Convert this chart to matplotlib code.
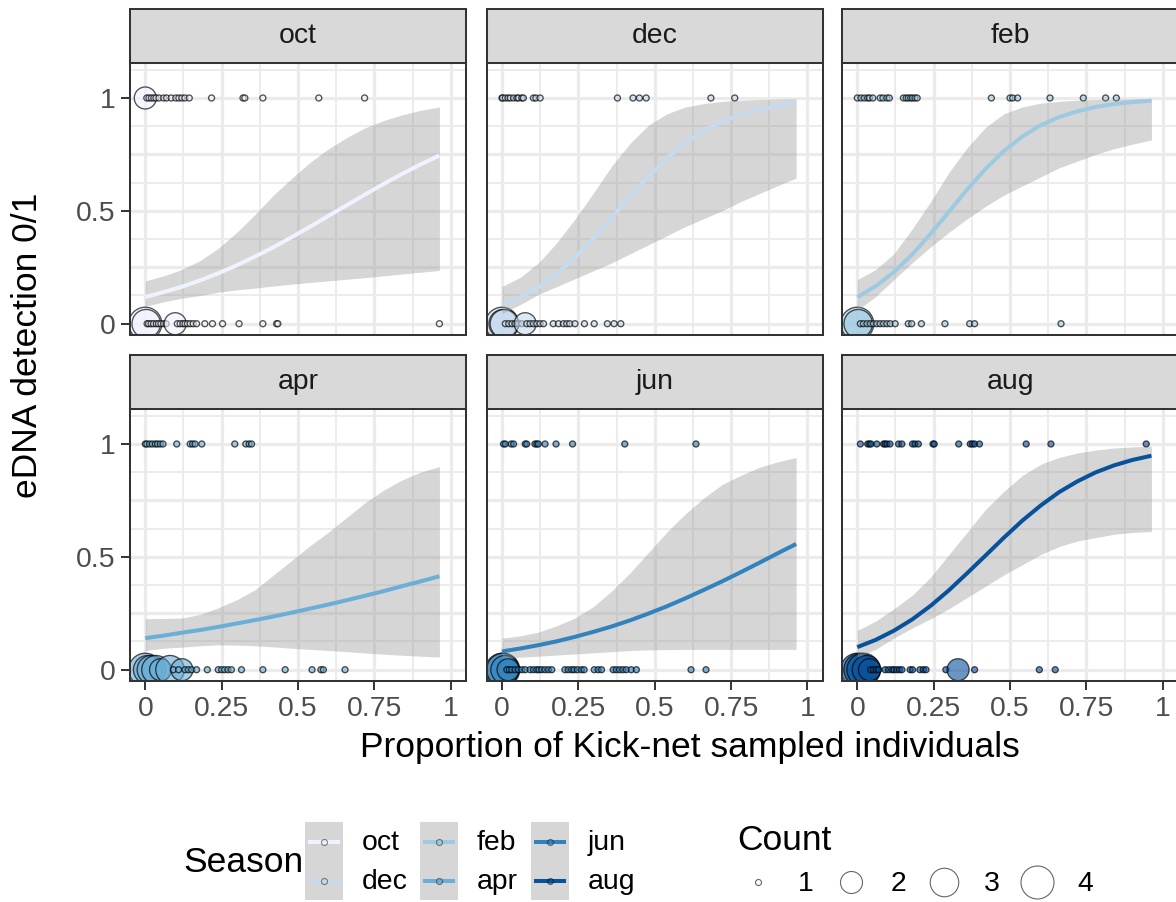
import matplotlib
matplotlib.use("Agg")
import matplotlib.pyplot as plt
from matplotlib.lines import Line2D
from matplotlib.patches import Rectangle
from matplotlib.colors import to_rgba

plt.rcParams['font.family'] = ['Liberation Sans', 'DejaVu Sans']

W, H = 1176, 902
DPI = 100

seasons = ["oct", "dec", "feb", "apr", "jun", "aug"]
season_colors = ["#EFF3FF", "#C6DBEF", "#9ECAE1", "#6BAED6", "#3182BD", "#08519C"]

# fitted logistic curves and confidence bands, sampled along x
fit_x = [0, 0.06, 0.12, 0.18, 0.24, 0.30, 0.36, 0.42, 0.48, 0.54, 0.60,
         0.66, 0.72, 0.78, 0.84, 0.90, 0.963]

oct_fit = [0.118, 0.140, 0.164, 0.192, 0.224, 0.259, 0.298, 0.339, 0.384, 0.430,
           0.478, 0.525, 0.573, 0.619, 0.663, 0.705, 0.745]
oct_lo = [0.077, 0.097, 0.113, 0.125, 0.140, 0.150, 0.158, 0.167, 0.175, 0.183,
          0.190, 0.197, 0.204, 0.212, 0.220, 0.228, 0.236]
oct_hi = [0.190, 0.212, 0.240, 0.280, 0.335, 0.405, 0.485, 0.570, 0.645, 0.715,
          0.775, 0.825, 0.868, 0.900, 0.925, 0.945, 0.960]

dec_fit = [0.084, 0.118, 0.163, 0.222, 0.294, 0.378, 0.470, 0.564, 0.653, 0.733,
           0.801, 0.854, 0.895, 0.926, 0.948, 0.964, 0.975]
dec_lo = [0.045, 0.085, 0.130, 0.165, 0.200, 0.235, 0.270, 0.310, 0.350, 0.390,
          0.430, 0.465, 0.500, 0.540, 0.575, 0.610, 0.645]
dec_hi = [0.165, 0.205, 0.270, 0.360, 0.465, 0.580, 0.700, 0.800, 0.880, 0.930,
          0.960, 0.975, 0.985, 0.990, 0.993, 0.995, 0.996]

feb_fit = [0.118, 0.166, 0.229, 0.307, 0.398, 0.496, 0.595, 0.686, 0.765, 0.829,
           0.879, 0.915, 0.941, 0.960, 0.973, 0.982, 0.988]
feb_lo = [0.060, 0.120, 0.195, 0.270, 0.340, 0.405, 0.465, 0.520, 0.570, 0.610,
          0.650, 0.690, 0.720, 0.750, 0.775, 0.795, 0.814]
feb_hi = [0.195, 0.240, 0.310, 0.420, 0.540, 0.670, 0.780, 0.870, 0.930, 0.960,
          0.977, 0.985, 0.990, 0.993, 0.995, 0.996, 0.997]

apr_fit = [0.140, 0.151, 0.164, 0.176, 0.190, 0.205, 0.220, 0.236, 0.253, 0.271,
           0.289, 0.308, 0.328, 0.348, 0.370, 0.391, 0.414]
apr_lo = [0.085, 0.095, 0.100, 0.106, 0.110, 0.109, 0.106, 0.101, 0.095, 0.090,
          0.085, 0.080, 0.074, 0.069, 0.064, 0.060, 0.056]
apr_hi = [0.226, 0.227, 0.229, 0.245, 0.275, 0.310, 0.355, 0.420, 0.485, 0.550,
          0.610, 0.675, 0.740, 0.795, 0.840, 0.875, 0.900]

jun_fit = [0.081, 0.094, 0.109, 0.126, 0.146, 0.168, 0.192, 0.219, 0.249, 0.281,
           0.316, 0.353, 0.391, 0.431, 0.472, 0.514, 0.557]
jun_lo = [0.050, 0.055, 0.060, 0.065, 0.070, 0.075, 0.080, 0.085, 0.088, 0.089,
          0.090, 0.090, 0.090, 0.090, 0.090, 0.090, 0.090]
jun_hi = [0.140, 0.150, 0.167, 0.195, 0.230, 0.280, 0.350, 0.430, 0.520, 0.610,
          0.690, 0.760, 0.820, 0.860, 0.895, 0.920, 0.940]

aug_fit = [0.100, 0.132, 0.173, 0.223, 0.283, 0.352, 0.428, 0.506, 0.585, 0.660,
           0.727, 0.786, 0.834, 0.874, 0.905, 0.929, 0.948]
aug_lo = [0.055, 0.090, 0.140, 0.185, 0.225, 0.270, 0.320, 0.370, 0.420, 0.465,
          0.510, 0.545, 0.570, 0.585, 0.600, 0.608, 0.612]
aug_hi = [0.174, 0.215, 0.270, 0.330, 0.410, 0.510, 0.610, 0.710, 0.790, 0.860,
          0.910, 0.940, 0.960, 0.973, 0.982, 0.987, 0.990]

# observations: proportion of kick-net individuals, with count per location
oct_x1 = [0, 0.005, 0.012, 0.02, 0.028, 0.035, 0.045, 0.06, 0.07, 0.085, 0.1,
          0.11, 0.12, 0.13, 0.144, 0.217, 0.32, 0.326, 0.385, 0.568, 0.718]
oct_n1 = [2] + [1] * 20
oct_x0 = [0, 0.003, 0.006, 0.011, 0.019, 0.027, 0.036, 0.043, 0.051, 0.06, 0.068,
          0.098, 0.105, 0.114, 0.123, 0.13, 0.138, 0.147, 0.157, 0.168, 0.195,
          0.22, 0.253, 0.307, 0.385, 0.43, 0.434, 0.963]
oct_n0 = [4, 3, 1, 1, 1, 1, 1, 1, 1, 1, 1, 2] + [1] * 16

dec_x1 = [0, 0.002, 0.011, 0.02, 0.027, 0.038, 0.049, 0.054, 0.065, 0.07, 0.103,
          0.111, 0.125, 0.378, 0.429, 0.45, 0.472, 0.684, 0.762]
dec_n1 = [1] * 19
dec_x0 = [0, 0.004, 0.008, 0.011, 0.022, 0.033, 0.043, 0.054, 0.065, 0.076, 0.081,
          0.092, 0.103, 0.114, 0.125, 0.136, 0.168, 0.185, 0.201, 0.212, 0.222,
          0.239, 0.27, 0.302, 0.345, 0.367, 0.389]
dec_n0 = [4, 3, 3, 1, 1, 1, 1, 1, 1, 2] + [1] * 17

feb_x1 = [0, 0.012, 0.023, 0.034, 0.04, 0.051, 0.075, 0.084, 0.097, 0.105, 0.151,
          0.16, 0.167, 0.175, 0.181, 0.189, 0.196, 0.439, 0.5, 0.509, 0.525,
          0.631, 0.74, 0.813, 0.848]
feb_n1 = [1] * 25
feb_x0 = [0, 0.003, 0.01, 0.02, 0.032, 0.043, 0.053, 0.064, 0.075, 0.086, 0.097,
          0.108, 0.124, 0.167, 0.178, 0.21, 0.287, 0.368, 0.384, 0.667]
feb_n0 = [4, 3] + [1] * 18

apr_x1 = [0, 0.005, 0.014, 0.023, 0.033, 0.04, 0.049, 0.058, 0.103, 0.147, 0.155,
          0.163, 0.185, 0.293, 0.329, 0.34, 0.348]
apr_n1 = [1] * 17
apr_x0 = [0, 0.008, 0.02, 0.035, 0.05, 0.081, 0.12, 0.092, 0.109, 0.13, 0.141,
          0.152, 0.168, 0.203, 0.239, 0.25, 0.26, 0.271, 0.282, 0.315, 0.385,
          0.458, 0.546, 0.575, 0.583, 0.654]
apr_n0 = [4, 3, 3, 3, 2, 3, 2] + [1] * 19

jun_x1 = [0.005, 0.011, 0.03, 0.038, 0.076, 0.081, 0.108, 0.114, 0.119, 0.141,
          0.177, 0.231, 0.402, 0.635]
jun_n1 = [1] * 14
jun_x0 = [0, 0.004, 0.01, 0.02, 0.016, 0.024, 0.032, 0.043, 0.054, 0.065, 0.076,
          0.092, 0.103, 0.114, 0.121, 0.13, 0.141, 0.152, 0.163, 0.206, 0.217,
          0.228, 0.236, 0.247, 0.26, 0.269, 0.302, 0.315, 0.326, 0.364, 0.374,
          0.385, 0.396, 0.407, 0.423, 0.44, 0.619, 0.668]
jun_n0 = [4, 4, 3, 2] + [1] * 34

aug_x1 = [0.01, 0.034, 0.04, 0.045, 0.064, 0.086, 0.091, 0.097, 0.107, 0.135,
          0.146, 0.181, 0.189, 0.2, 0.248, 0.252, 0.332, 0.37, 0.377, 0.384, 0.4,
          0.553, 0.634, 0.946]
aug_n1 = [1] * 24
aug_x0 = [0, 0.01, 0.02, 0.03, 0.04, 0.044, 0.053, 0.062, 0.07, 0.091, 0.102,
          0.113, 0.12, 0.129, 0.138, 0.146, 0.173, 0.181, 0.205, 0.216, 0.225,
          0.29, 0.33, 0.384, 0.596, 0.648]
aug_n0 = [4, 4, 4, 3, 2, 1, 1, 1, 1, 1, 1, 1, 1, 1, 1, 1, 1, 1, 1, 1, 1, 1, 2,
          1, 1, 1]

panels = {
    "oct": (oct_fit, oct_lo, oct_hi, oct_x1, oct_n1, oct_x0, oct_n0),
    "dec": (dec_fit, dec_lo, dec_hi, dec_x1, dec_n1, dec_x0, dec_n0),
    "feb": (feb_fit, feb_lo, feb_hi, feb_x1, feb_n1, feb_x0, feb_n0),
    "apr": (apr_fit, apr_lo, apr_hi, apr_x1, apr_n1, apr_x0, apr_n0),
    "jun": (jun_fit, jun_lo, jun_hi, jun_x1, jun_n1, jun_x0, jun_n0),
    "aug": (aug_fit, aug_lo, aug_hi, aug_x1, aug_n1, aug_x0, aug_n0),
}

x_ticks = [0, 0.25, 0.5, 0.75, 1]
x_tick_labels = ["0", "0.25", "0.5", "0.75", "1"]
y_ticks = [0, 0.5, 1]
y_tick_labels = ["0", "0.5", "1"]
count_levels = [1, 2, 3, 4]

# point diameter (px) for each count
count_diam = {1: 6.0, 2: 22, 3: 28.5, 4: 33}

GRID = "#EBEBEB"
DARK = "#333333"
SMALL = 20.4
BIG = 25.5
FILL_ALPHA = 0.6
EDGE = (0, 0, 0, 0.68)


def px_box(x0, y0, x1, y1):
    return [x0 / W, 1 - y1 / H, (x1 - x0) / W, (y1 - y0) / H]


def size_pts(n):
    d = count_diam[n] * 72 / DPI
    return d * d


fig = plt.figure(figsize=(W / DPI, H / DPI), dpi=DPI)
fig.patch.set_facecolor("white")

col_left = [130, 486.7, 842]
panel_w = 336
row_top = [63, 409]
panel_h = 272
strip_h = 54

for i, season in enumerate(seasons):
    r, c = divmod(i, 3)
    x0 = col_left[c]
    y0 = row_top[r]
    color = season_colors[i]
    fill = to_rgba(color, FILL_ALPHA)
    fit, lo, hi, xs1, ns1, xs0, ns0 = panels[season]

    ax = fig.add_axes(px_box(x0, y0, x0 + panel_w, y0 + panel_h))
    ax.set_xlim(-0.05, 1.05)
    ax.set_ylim(-0.05, 1.155)
    ax.set_facecolor("white")

    for g in [0.125, 0.375, 0.625, 0.875]:
        ax.axvline(g, color=GRID, lw=1.3, zorder=0)
    for g in x_ticks:
        ax.axvline(g, color=GRID, lw=2.3, zorder=0)
    for k in range(10):
        g = k * 0.125
        ax.axhline(g, color=GRID, lw=2.3 if k % 2 == 0 else 1.3, zorder=0)

    for xs, ns, yv in ((xs1, ns1, 1), (xs0, ns0, 0)):
        ax.scatter(xs, [yv] * len(xs), s=[size_pts(n) for n in ns],
                   facecolor=fill, edgecolor=EDGE, linewidths=0.95, zorder=2)

    ax.fill_between(fit_x, lo, hi, color="#999999", alpha=0.4, lw=0, zorder=3)
    ax.plot(fit_x, fit, color=color, lw=2.9, zorder=4, solid_capstyle="butt")

    for sp in ax.spines.values():
        sp.set_color(DARK)
        sp.set_linewidth(1.45)
        sp.set_zorder(6)

    ax.set_xticks(x_ticks)
    ax.set_yticks(y_ticks)
    ax.tick_params(length=6.5, width=1.4, color=DARK, labelcolor="#4D4D4D",
                   labelsize=SMALL, pad=4)
    if r == 1:
        ax.set_xticklabels(x_tick_labels)
    else:
        ax.tick_params(axis="x", length=0, labelbottom=False)
    if c == 0:
        ax.set_yticklabels(y_tick_labels)
    else:
        ax.tick_params(axis="y", length=0, labelleft=False)

    sax = fig.add_axes(px_box(x0, y0 - strip_h, x0 + panel_w, y0))
    sax.set_facecolor("#D9D9D9")
    sax.set_xticks([])
    sax.set_yticks([])
    for sp in sax.spines.values():
        sp.set_color(DARK)
        sp.set_linewidth(1.45)
    sax.text(0.5, 0.5, season, ha="center", va="center", fontsize=SMALL,
             color="#1A1A1A", transform=sax.transAxes)

# axis titles
fig.text(28 / W, 1 - 345 / H, "eDNA detection 0/1", rotation=90,
         ha="center", va="center", fontsize=BIG, color="black")
fig.text(690 / W, 1 - 748 / H, "Proportion of Kick-net sampled individuals",
         ha="center", va="center", fontsize=BIG, color="black")

# legends drawn in pixel space
lax = fig.add_axes([0, 0, 1, 1])
lax.set_xlim(0, W)
lax.set_ylim(H, 0)
lax.axis("off")
lax.patch.set_alpha(0)

lax.text(183, 862, "Season", ha="left", va="center", fontsize=BIG)
key_cols = [305, 420, 531]
key_rows = [822, 861]
for i, season in enumerate(seasons):
    c, r = divmod(i, 2)
    kx = key_cols[c]
    ky = key_rows[r]
    lax.add_patch(Rectangle((kx, ky), 38, 39, facecolor="#D6D6D6",
                            edgecolor="none", zorder=1))
    lax.add_line(Line2D([kx + 3, kx + 35], [ky + 19.5, ky + 19.5],
                        color=season_colors[i], lw=2.9, zorder=2,
                        solid_capstyle="butt"))
    lax.scatter([kx + 19], [ky + 19.5], s=size_pts(1),
                facecolor=to_rgba(season_colors[i], FILL_ALPHA),
                edgecolor=(0, 0, 0, 0.45), linewidths=0.8, zorder=3)
    lax.text(kx + 57, ky + 21, season, ha="left", va="center", fontsize=SMALL)

lax.text(737, 840, "Count", ha="left", va="center", fontsize=BIG)
count_x = [758, 851, 944, 1037]
for n, cx in zip(count_levels, count_x):
    lax.scatter([cx], [882], s=size_pts(n), facecolor="white",
                edgecolor=(0, 0, 0, 0.6), linewidths=0.8, zorder=3)
    lax.text(cx + 40, 884, str(n), ha="left", va="center", fontsize=SMALL)

fig.savefig("out.png", dpi=DPI)
